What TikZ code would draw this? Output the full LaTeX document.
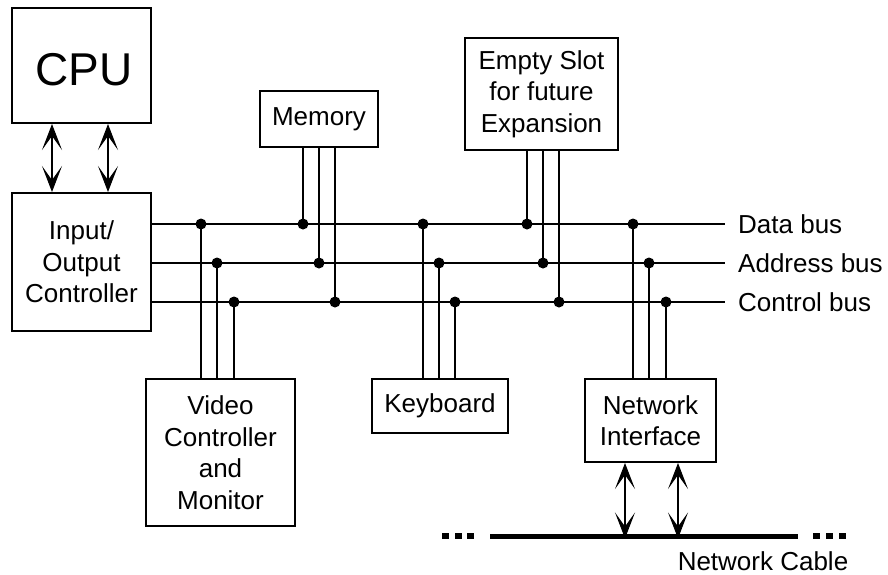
\documentclass[tikz,border=0pt]{standalone}
\usepackage{fontspec}
\setmainfont{Liberation Sans}
\usetikzlibrary{arrows.meta}
\begin{document}
\begin{tikzpicture}[x=1pt,y=-1pt,
  box/.style={draw, line width=2pt, rectangle, inner sep=0pt, align=center,
    font=\fontsize{26}{31.5}\selectfont},
  bus/.style={line width=2pt},
  lbl/.style={inner sep=0pt, font=\fontsize{26}{31.5}\selectfont},
  dblarrow/.style={line width=2pt,
    arrows={Stealth[length=26pt,width=20pt,inset=14pt,line width=1pt]-Stealth[length=26pt,width=20pt,inset=14pt,line width=1pt]}},
  cablestyle/.style={line width=5pt}]
\useasboundingbox (0,0) rectangle (888,574);

% boxes
\node[box, minimum width=139pt, minimum height=115pt, font=\fontsize{46}{50}\selectfont] (cpu) at (81.5,65.5) {\hspace*{5pt}\rule{0pt}{41pt}CPU};
\node[box, minimum width=139pt, minimum height=138pt] (io) at (81.5,262) {Input/\\Output\\Controller};
\node[box, minimum width=118pt, minimum height=56pt] (mem) at (319,119) {Memory};
\node[box, minimum width=153pt, minimum height=112pt] (slot) at (541.5,94) {Empty Slot\\for future\\Expansion};
\node[box, minimum width=149pt, minimum height=147pt] (vid) at (220.5,452.5) {Video\\Controller\\and\\Monitor};
\node[box, minimum width=136.5pt, minimum height=54pt] (kbd) at (440,406) {Keyboard};
\node[box, minimum width=131pt, minimum height=83pt] (ni) at (650.5,420.5) {Network\\Interface};

% buses
\coordinate (dEnd) at (725,224);
\coordinate (aEnd) at (725,263);
\coordinate (cEnd) at (725,302);
\draw[bus] (io.east |- dEnd) -- (dEnd);
\draw[bus] (io.east |- aEnd) -- (aEnd);
\draw[bus] (io.east |- cEnd) -- (cEnd);
\node[lbl, anchor=west] (dlbl) at (738,224) {Data bus};
\node[lbl, anchor=west] (albl) at (738,263) {Address bus};
\node[lbl, anchor=west] (clbl) at (738,302) {Control bus};

% taps
\foreach \x/\y/\dev/\anc in {
  201/224/vid/north, 217/263/vid/north, 234/302/vid/north,
  303/224/mem/south, 319/263/mem/south, 335/302/mem/south,
  423/224/kbd/north, 439/263/kbd/north, 455/302/kbd/north,
  527/224/slot/south, 543/263/slot/south, 559/302/slot/south,
  633/224/ni/north, 649/263/ni/north, 666/302/ni/north} {
  \coordinate (t) at (\x,\y);
  \draw[bus] (t) -- (t |- \dev.\anc);
  \fill (t) circle (5.5pt);
}

% CPU <-> IO arrows
\coordinate (ax1) at (52,0);
\coordinate (ax2) at (108,0);
\draw[dblarrow] (cpu.south -| ax1) -- (io.north -| ax1);
\draw[dblarrow] (cpu.south -| ax2) -- (io.north -| ax2);

% network cable
\coordinate (cabL) at (490,536);
\coordinate (cabR) at (798,536);
\draw[cablestyle] (cabL) -- (cabR);
\coordinate (nx1) at (625,536);
\coordinate (nx2) at (678,536);
\draw[dblarrow] (ni.south -| nx1) -- ([yshift=-2.5pt]nx1);
\draw[dblarrow] (ni.south -| nx2) -- ([yshift=-2.5pt]nx2);
\foreach \x in {445.5,458,470.5,816.5,829,842}
  \fill (\x-3.5,533) rectangle (\x+3.5,539);
\node[lbl] (cabtxt) at (763,561) {Network Cable};
\end{tikzpicture}
\end{document}
